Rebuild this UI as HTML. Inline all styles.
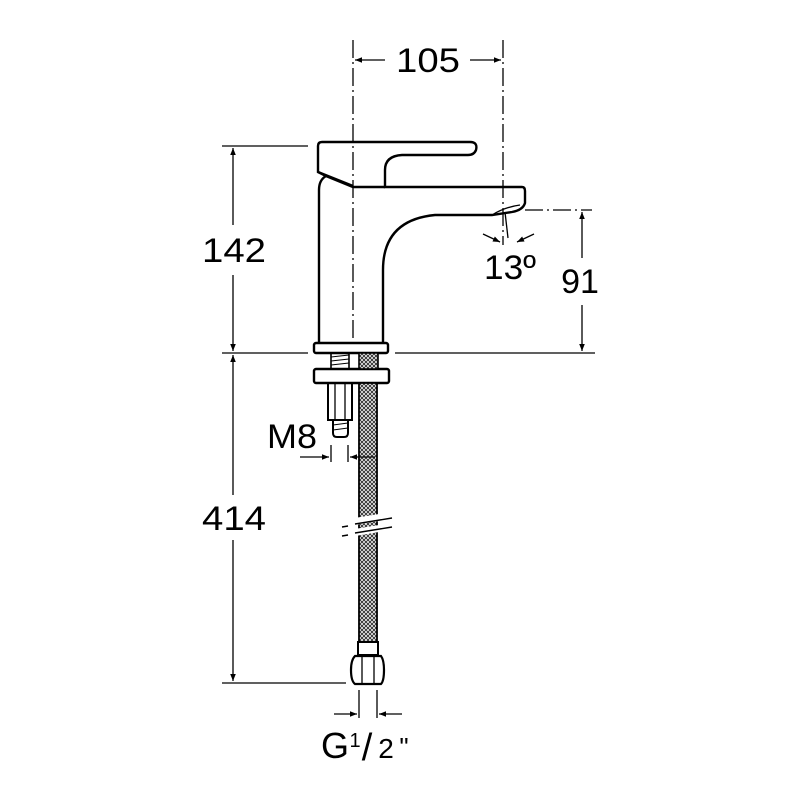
<!DOCTYPE html>
<html><head><style>html,body{margin:0;padding:0;background:#fff}svg{display:block}</style></head>
<body>
<svg width="800" height="800" viewBox="0 0 800 800" xmlns="http://www.w3.org/2000/svg">
<defs>
<marker id="a" viewBox="0 0 10 10" refX="10" refY="5" markerWidth="9" markerHeight="7" orient="auto-start-reverse" markerUnits="userSpaceOnUse"><path d="M0,1 L10,5 L0,9 Z" fill="#000"/></marker>
<pattern id="mesh" width="4" height="4" patternUnits="userSpaceOnUse"><rect width="4" height="4" fill="#fff"/><path d="M0,0 L4,4 M4,0 L0,4" stroke="#333" stroke-width="1"/></pattern>
</defs>
<g fill="none" stroke="#000" stroke-width="1.3">
<line x1="353" y1="40" x2="353" y2="345" stroke-dasharray="18,4,2,4"/>
<line x1="503" y1="40" x2="503" y2="245" stroke-dasharray="18,4,2,4"/>
<line x1="525" y1="210" x2="592" y2="210" stroke-dasharray="18,4,2,4"/>
<line x1="355" y1="60" x2="385" y2="60" marker-start="url(#a)"/>
<line x1="470" y1="60" x2="501" y2="60" marker-end="url(#a)"/>
<line x1="222" y1="146" x2="308" y2="146"/>
<line x1="222" y1="353" x2="308" y2="353"/>
<line x1="222" y1="683" x2="346" y2="683"/>
<line x1="233" y1="148" x2="233" y2="225" marker-start="url(#a)"/>
<line x1="233" y1="275" x2="233" y2="351" marker-end="url(#a)"/>
<line x1="233" y1="355" x2="233" y2="495" marker-start="url(#a)"/>
<line x1="233" y1="540" x2="233" y2="681" marker-end="url(#a)"/>
<line x1="395" y1="353" x2="595" y2="353"/>
<line x1="582" y1="212" x2="582" y2="258" marker-start="url(#a)"/>
<line x1="582" y1="305" x2="582" y2="351" marker-end="url(#a)"/>
<line x1="505" y1="212" x2="508" y2="238"/>
<path d="M483,234 L500,242" marker-end="url(#a)"/>
<path d="M534,234 L517,242" marker-end="url(#a)"/>
<g stroke-width="2.4">
<path d="M319,343 L319,190 Q319,180 326,176 L318,172 L318,146 Q318,142 322,142 L470,142 Q478,142 476,150 Q474,155 468,155 L402,155 Q385,156 385,170 L385,187 L522,187 Q525,187 525,191 L525,203 Q523,210 512,212 L492,215 L435,215 Q383,220 383,270 L383,343"/>
<path d="M326,176 L353,187 L385,187"/>
<path d="M318,172 L353,186"/>
<path d="M492,215 Q505,207 520,205" stroke-width="1.3"/>
<rect x="314" y="343" width="74" height="10" rx="2"/>
<rect x="314" y="369" width="75" height="14" rx="2"/>
</g>
<rect x="331" y="353" width="18" height="16" stroke-width="1.6"/>
<path d="M331,357 L349,355 M331,361 L349,359 M331,365 L349,363" stroke-width="1"/>
<rect x="359" y="353" width="19" height="16" fill="url(#mesh)" stroke-width="1.6"/>
<rect x="328" y="383" width="24" height="37" stroke-width="2"/>
<line x1="335" y1="383" x2="335" y2="420"/><line x1="345" y1="383" x2="345" y2="420"/>
<path d="M333,420 L333,433 Q333,437 337,437 L344,437 Q348,437 348,433 L348,420" stroke-width="2"/>
<path d="M333,425 L348,423 M333,430 L348,428" stroke-width="1"/>
<rect x="359" y="383" width="18" height="259" fill="url(#mesh)" stroke-width="1.8"/>
<path d="M340,524 L400,514 M340,535 L400,525" stroke="#fff" stroke-width="7"/>
<path d="M342,527 L348,526 M355,524 L392,518 M342,536 L348,535 M355,533 L392,527" stroke-width="1.4"/>
<rect x="358" y="642" width="20" height="13" stroke-width="2"/>
<path d="M355,656 L381,656 Q384,660 384,670 Q384,681 381,684 L355,684 Q351,681 351,670 Q351,660 355,656 Z" stroke-width="2.2" fill="#fff"/>
<line x1="362" y1="656" x2="362" y2="684"/><line x1="374" y1="656" x2="374" y2="684"/>
<line x1="331" y1="445" x2="331" y2="462"/>
<line x1="348" y1="445" x2="348" y2="462"/>
<line x1="300" y1="457" x2="329" y2="457" marker-end="url(#a)"/>
<line x1="375" y1="457" x2="350" y2="457" marker-end="url(#a)"/>
<line x1="359" y1="690" x2="359" y2="718"/>
<line x1="377" y1="690" x2="377" y2="718"/>
<line x1="334" y1="714" x2="357" y2="714" marker-end="url(#a)"/>
<line x1="402" y1="714" x2="379" y2="714" marker-end="url(#a)"/>
</g>
<g font-family="Liberation Sans, sans-serif" font-size="34" fill="#000" text-anchor="middle">
<text x="428" y="72" textLength="64" lengthAdjust="spacingAndGlyphs">105</text>
<text x="234" y="262" textLength="64" lengthAdjust="spacingAndGlyphs">142</text>
<text x="234" y="530" textLength="64" lengthAdjust="spacingAndGlyphs">414</text>
<text x="580" y="293">91</text>
<text x="510" y="279" textLength="52" lengthAdjust="spacingAndGlyphs">13º</text>
<text x="292" y="448" textLength="50" lengthAdjust="spacingAndGlyphs">M8</text>
<text x="335" y="758" font-size="36">G</text>
<text x="355" y="747" font-size="20">1</text>
<text x="367" y="760" font-size="38">/</text>
<text x="386" y="758" font-size="28">2</text>
<text x="404" y="756" font-size="26">"</text>
</g>
</svg>
</body></html>
